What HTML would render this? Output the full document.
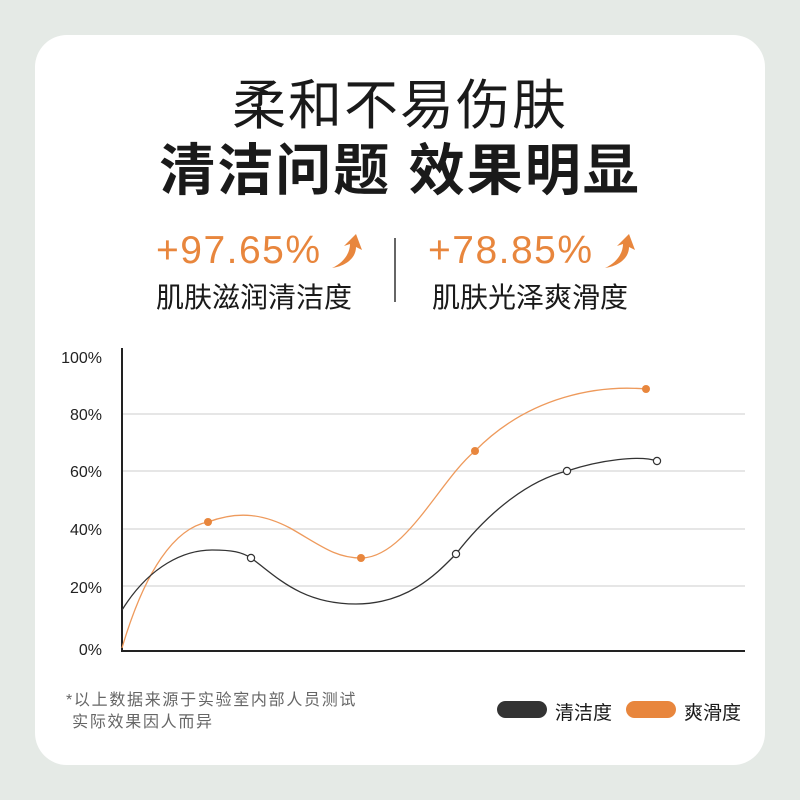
<!DOCTYPE html>
<html><head><meta charset="utf-8"><style>
body{margin:0;width:800px;height:800px;background:#e5eae6;position:relative;overflow:hidden;font-family:"Liberation Sans","Noto Sans CJK SC",sans-serif}
.card{position:absolute;left:35px;top:35px;width:730px;height:730px;background:#fff;border-radius:32px}
.t{position:absolute;left:0;width:800px;text-align:center;color:#1a1a1a;white-space:nowrap}
.a{position:absolute;white-space:nowrap}
</style></head><body>
<div class="card"></div>
<div class="t" style="top:61px;font-size:54px;font-weight:400;letter-spacing:2px">柔和不易伤肤</div>
<div class="t" style="top:126px;font-size:56px;font-weight:700;letter-spacing:2px">清洁问题 效果明显</div>
<div class="a" style="left:156px;top:229px;font-size:39px;color:#e8863d;letter-spacing:1.5px">+97.65%</div>
<div class="a" style="left:428px;top:229px;font-size:39px;color:#e8863d;letter-spacing:1.5px">+78.85%</div>
<svg style="position:absolute;left:0;top:0" width="800" height="800">
<path d="M332,268 C345,262 350,252 350,244 L344,246 L356,234 L362,250 L356,247 C356,258 346,266 332,268Z" fill="#e8863d"/>
<path d="M605,268 C618,262 623,252 623,244 L617,246 L629,234 L635,250 L629,247 C629,258 619,266 605,268Z" fill="#e8863d"/>
<line x1="395" y1="238" x2="395" y2="302" stroke="#333" stroke-width="1.5"/>
<g stroke="#ddd" stroke-width="1.5">
<line x1="122" y1="414" x2="745" y2="414"/><line x1="122" y1="471" x2="745" y2="471"/>
<line x1="122" y1="529" x2="745" y2="529"/><line x1="122" y1="586" x2="745" y2="586"/></g>
<line x1="122" y1="348" x2="122" y2="651" stroke="#222" stroke-width="2"/>
<line x1="121" y1="651" x2="745" y2="651" stroke="#222" stroke-width="2"/>
<g font-size="16" fill="#222" text-anchor="end" font-family="Liberation Sans,sans-serif">
<text x="102" y="363">100%</text><text x="102" y="420">80%</text><text x="102" y="477">60%</text>
<text x="102" y="535">40%</text><text x="102" y="593">20%</text><text x="102" y="655">0%</text></g>
<path d="M122,648 C145,570 175,528 208,522 C240,510 265,515 290,528 C320,545 335,558 361,558 C405,558 440,480 475,451 C530,395 600,385 646,389" fill="none" stroke="#ee9a5c" stroke-width="1.3"/>
<path d="M122,610 C150,565 185,550 212,550 C232,550 242,552 251,558 C275,575 300,604 356,604 C410,604 440,570 456,554 C490,510 530,480 567,471 C600,460 640,455 657,461" fill="none" stroke="#333" stroke-width="1.3"/>
<g fill="#e8863d"><circle cx="208" cy="522" r="4"/><circle cx="361" cy="558" r="4"/><circle cx="475" cy="451" r="4"/><circle cx="646" cy="389" r="4"/></g>
<g fill="#fff" stroke="#333" stroke-width="1.2"><circle cx="251" cy="558" r="3.6"/><circle cx="456" cy="554" r="3.6"/><circle cx="567" cy="471" r="3.6"/><circle cx="657" cy="461" r="3.6"/></g>
<rect x="497" y="701" width="50" height="17" rx="8.5" fill="#333"/>
<rect x="626" y="701" width="50" height="17" rx="8.5" fill="#e8863d"/>
</svg>
<div class="a" style="left:156px;top:276px;font-size:28px;color:#1a1a1a">肌肤滋润清洁度</div>
<div class="a" style="left:432px;top:276px;font-size:28px;color:#1a1a1a">肌肤光泽爽滑度</div>
<div class="a" style="left:66px;top:690px;font-size:16px;color:#666;line-height:22px;letter-spacing:1.7px">*以上数据来源于实验室内部人员测试<br>&nbsp;实际效果因人而异</div>
<div class="a" style="left:555px;top:698px;font-size:19px;color:#1a1a1a">清洁度</div>
<div class="a" style="left:684px;top:698px;font-size:19px;color:#1a1a1a">爽滑度</div>
</body></html>
